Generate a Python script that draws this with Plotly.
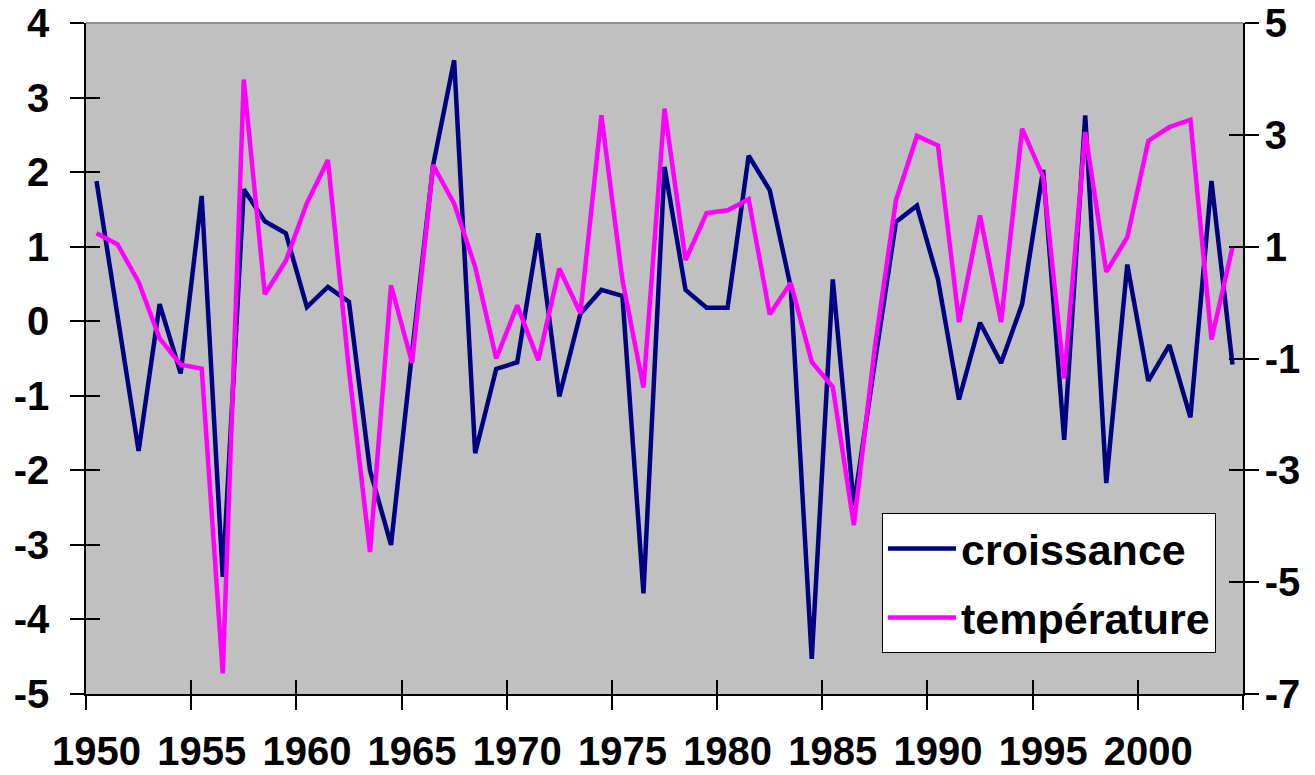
import plotly.graph_objects as go

years = list(range(1950, 2005))

croissance = [
    1.88, 0.11, -1.74, 0.23, -0.70, 1.68, -3.43, 1.77, 1.34, 1.18,
    0.19, 0.46, 0.26, -2.00, -3.00, -0.42, 2.09, 3.50, -1.77, -0.64,
    -0.55, 1.18, -1.01, 0.10, 0.42, 0.34, -3.65, 2.07, 0.42, 0.18,
    0.18, 2.22, 1.76, 0.46, -4.53, 0.56, -2.47, -0.55, 1.33, 1.55,
    0.56, -1.05, -0.02, -0.56, 0.23, 2.03, -1.59, 2.76, -2.17, 0.76,
    -0.80, -0.32, -1.29, 1.88, -0.58,
]

temperature = [
    1.24, 1.04, 0.37, -0.64, -1.11, -1.18, -6.63, 3.99, 0.15, 0.75,
    1.78, 2.55, -1.21, -4.46, 0.31, -1.08, 2.46, 1.77, 0.64, -1.00,
    -0.05, -1.03, 0.61, -0.19, 3.35, 0.40, -1.52, 3.47, 0.76, 1.60,
    1.65, 1.85, -0.21, 0.35, -1.06, -1.51, -3.98, -0.79, 1.83, 2.98,
    2.81, -0.35, 1.56, -0.35, 3.11, 2.25, -1.36, 3.05, 0.55, 1.17,
    2.89, 3.14, 3.27, -0.66, 0.99,
]

x_labels = [1950, 1955, 1960, 1965, 1970, 1975, 1980, 1985, 1990, 1995, 2000]
x_bounds = [1949.5 + 5 * i for i in range(12)]
left_ticks = [-5, -4, -3, -2, -1, 0, 1, 2, 3, 4]
right_ticks = [-7, -5, -3, -1, 1, 3, 5]

FONT = "Liberation Sans, Arial, sans-serif"
tickfont = dict(family=FONT, size=40, color="black", weight="bold")
xr = [1949.5, 2004.5]
yr_left = [-5, 4]
yr_right = [-7, 5]

fig = go.Figure()
fig.add_trace(go.Scatter(x=years, y=croissance, mode="lines", name="croissance",
                         line=dict(color="#000080", width=4.5), xaxis="x", yaxis="y",
                         legendgroup="a"))
fig.add_trace(go.Scatter(x=years, y=temperature, mode="lines", name="température",
                         line=dict(color="#FF00FF", width=4.5), xaxis="x", yaxis="y2",
                         legendgroup="b"))
# empty helper traces so the tick-only overlay axes get drawn
for xa, ya in [("x2", "y"), ("x", "y3"), ("x", "y4")]:
    fig.add_trace(go.Scatter(x=[], y=[], xaxis=xa, yaxis=ya, showlegend=False,
                             hoverinfo="skip"))

common_tick = dict(tickcolor="black", tickwidth=1.5, ticklen=14, showgrid=False,
                   zeroline=False, automargin=False)

fig.update_layout(
    width=1315, height=775,
    margin=dict(l=86, r=72, t=23, b=81),
    paper_bgcolor="white",
    plot_bgcolor="#C0C0C0",
    showlegend=True,
    legend=dict(
        x=0.688, y=0.2696, xanchor="left", yanchor="top",
        bgcolor="white", bordercolor="black", borderwidth=1,
        font=dict(family=FONT, size=43, color="black", weight="bold"),
        tracegroupgap=10,
        itemwidth=68,
    ),
    xaxis=dict(range=xr, tickmode="array", tickvals=x_labels,
               ticktext=[str(v) for v in x_labels], ticks="", tickfont=tickfont,
               ticklabelstandoff=21, showline=True, linecolor="black",
               linewidth=1.5, showgrid=False, zeroline=False, automargin=False,
               minor=dict(tickmode="array", tickvals=x_bounds, ticks="outside",
                          ticklen=14, tickcolor="black", tickwidth=1.5)),
    xaxis2=dict(range=xr, overlaying="x", anchor="y", side="bottom",
                tickmode="array", tickvals=x_bounds, ticks="inside",
                showticklabels=False, showline=False, **common_tick),
    yaxis=dict(range=yr_left, tickmode="array", tickvals=left_ticks,
               ticktext=[str(v) for v in left_ticks],
               ticks="outside", tickfont=tickfont, ticklabelstandoff=13,
               showline=True, linecolor="black", linewidth=1.5, **common_tick),
    yaxis2=dict(range=yr_right, tickmode="array", tickvals=right_ticks,
                ticktext=[str(v) for v in right_ticks],
                overlaying="y", side="right", anchor="x", ticks="outside",
                tickfont=tickfont, ticklabelstandoff=-2, showline=True,
                linecolor="black", linewidth=1.5, **common_tick),
    yaxis3=dict(range=yr_left, tickmode="array", tickvals=left_ticks,
                overlaying="y", side="left", anchor="x", ticks="inside",
                showticklabels=False, showline=False, **common_tick),
    yaxis4=dict(range=yr_right, tickmode="array", tickvals=right_ticks,
                overlaying="y", side="right", anchor="x", ticks="inside",
                showticklabels=False, showline=False, **common_tick),
    shapes=[dict(type="line", xref="paper", yref="paper", x0=0, x1=1, y0=1, y1=1,
                 line=dict(color="#909090", width=2), layer="above")],
)

fig.write_html("out.html", config={"displayModeBar": False},
               post_script="document.body.style.margin='0px';")
